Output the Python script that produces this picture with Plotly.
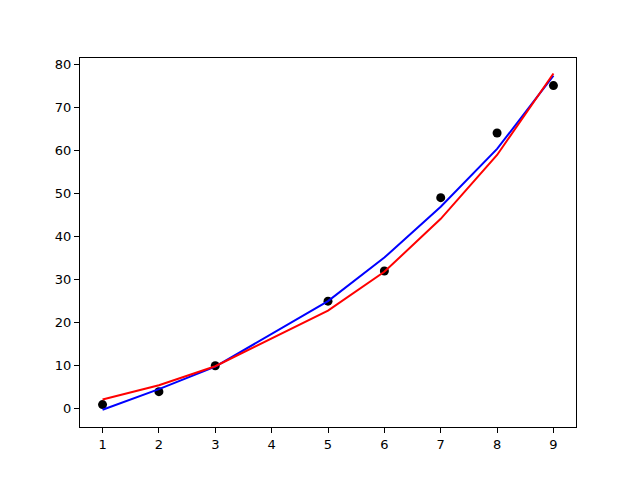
import plotly.graph_objects as go

# observed points
x_obs = [1, 2, 3, 5, 6, 7, 8, 9]
y_obs = [1, 4, 10, 25, 32, 49, 64, 75]

# two fitted curves
fit_blue = [-0.2, 4.6, 9.8, 25.0, 35.1, 46.9, 60.3, 77.3]
fit_red = [2.2, 5.5, 9.9, 22.8, 31.8, 44.1, 58.9, 77.8]

fig = go.Figure()

fig.add_trace(go.Scatter(
    x=x_obs, y=y_obs, mode='markers',
    marker=dict(color='black', size=9),
))
fig.add_trace(go.Scatter(
    x=x_obs, y=fit_blue, mode='lines',
    line=dict(color='blue', width=2),
))
fig.add_trace(go.Scatter(
    x=x_obs, y=fit_red, mode='lines',
    line=dict(color='red', width=2),
))

axis_style = dict(
    showline=True, linecolor='black', linewidth=1, mirror=True,
    ticks='outside', ticklen=5, tickcolor='black', tickwidth=1,
    showgrid=False, zeroline=False,
    tickfont=dict(family='DejaVu Sans', size=13, color='black'),
)

# page has an 8px body margin, so the figure is a bit smaller than the window
fig.update_layout(
    width=624, height=464,
    margin=dict(l=72, r=56, t=50, b=45),
    plot_bgcolor='white', paper_bgcolor='white',
    showlegend=False,
    xaxis=dict(range=[0.6, 9.4], dtick=1, **axis_style),
    yaxis=dict(range=[-4.2, 81.4], dtick=10, **axis_style),
)

fig.write_html("out.html")
